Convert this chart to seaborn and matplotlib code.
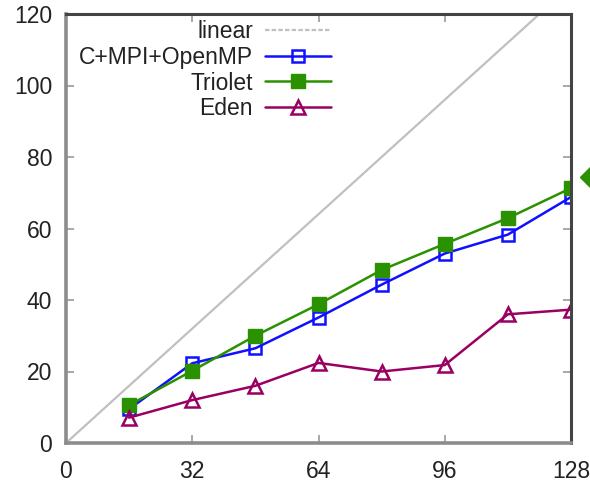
import matplotlib
matplotlib.use("Agg")
import matplotlib.pyplot as plt
from matplotlib.lines import Line2D
import seaborn as sns
import pandas as pd

# ---- data ----
cores = [16, 32, 48, 64, 80, 96, 112, 128]
mpi_openmp = [9.5, 22.3, 26.5, 35.1, 44.3, 53.0, 58.3, 68.8]
triolet = [10.6, 20.2, 30.0, 38.8, 48.4, 55.7, 62.9, 71.3]
eden = [7.1, 12.0, 16.0, 22.4, 20.0, 21.8, 36.0, 37.3]
linear_x = [0, 128]
linear_y = [0, 128]
marker_x = [133.2]
marker_y = [74.5]
x_ticks = [0, 32, 64, 96, 128]
y_ticks = [0, 20, 40, 60, 80, 100, 120]

sns.set_style("ticks")
plt.rcParams["font.family"] = ["Liberation Sans", "DejaVu Sans"]

fig = plt.figure(figsize=(5.9, 4.82), dpi=100)
ax = fig.add_axes([66 / 590, 39 / 482, 505 / 590, 429 / 482])

blue = "#1010ff"
green = "#2a9200"
purple = "#990062"
gray = "#c0c0c0"

df = pd.DataFrame({"cores": cores, "mpi": mpi_openmp, "triolet": triolet, "eden": eden})

sns.lineplot(x=linear_x, y=linear_y, ax=ax, color=gray, linewidth=1.6)
sns.lineplot(data=df, x="cores", y="mpi", ax=ax, color=blue, linewidth=1.8,
             marker="s", markersize=9, markerfacecolor="none",
             markeredgecolor=blue, markeredgewidth=1.8)
sns.lineplot(data=df, x="cores", y="triolet", ax=ax, color=green, linewidth=1.8,
             marker="s", markersize=10, markerfacecolor=green,
             markeredgecolor=green, markeredgewidth=1)
sns.lineplot(data=df, x="cores", y="eden", ax=ax, color=purple, linewidth=1.8,
             marker="^", markersize=10, markerfacecolor="none",
             markeredgecolor=purple, markeredgewidth=1.8)
ax.plot(marker_x, marker_y, linestyle="none", marker="D", markersize=12,
        color=green, clip_on=False)

ax.set_xlim(0, 128)
ax.set_ylim(0, 120)
ax.set_xticks(x_ticks)
ax.set_yticks(y_ticks)
ax.set_xlabel("")
ax.set_ylabel("")

ax.tick_params(direction="in", length=6, width=1.2, color="#999999",
               labelsize=16.5, labelcolor="#222222", top=True, right=True)
ax.tick_params(axis="y", pad=10)
ax.tick_params(axis="x", pad=12)

for side in ["left", "bottom"]:
    ax.spines[side].set_color("#8c8c8c")
    ax.spines[side].set_linewidth(2.6)
for side in ["top", "right"]:
    ax.spines[side].set_color("#444444")
    ax.spines[side].set_linewidth(2.2)
    ax.spines[side].set_visible(True)

handles = [
    Line2D([], [], color=gray, linewidth=1.6, linestyle=(0, (2, 1))),
    Line2D([], [], color=blue, linewidth=1.8, marker="s", markersize=9,
           markerfacecolor="none", markeredgecolor=blue, markeredgewidth=1.8),
    Line2D([], [], color=green, linewidth=1.8, marker="s", markersize=10,
           markerfacecolor=green, markeredgecolor=green),
    Line2D([], [], color=purple, linewidth=1.8, marker="^", markersize=10,
           markerfacecolor="none", markeredgecolor=purple, markeredgewidth=1.8),
]
labels = ["linear", "C+MPI+OpenMP", "Triolet", "Eden"]
leg = fig.legend(handles, labels, loc="upper right",
                 bbox_to_anchor=(331 / 590, 1 - 20 / 482),
                 frameon=False, markerfirst=False, fontsize=16.5,
                 handlelength=2.9, handletextpad=0.5, labelspacing=0.12,
                 borderpad=0, borderaxespad=0)
for t in leg.get_texts():
    t.set_color("#222222")

fig.savefig("out.png", dpi=100)
